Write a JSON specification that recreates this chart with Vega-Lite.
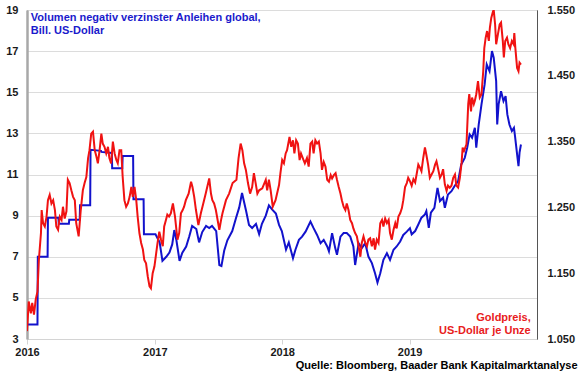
{
  "$schema": "https://vega.github.io/schema/vega-lite/v6.json",
  "autosize": {"type": "none"},
  "width": 510,
  "height": 329,
  "padding": {"left": 27, "top": 10, "right": 43, "bottom": 36},
  "background": "white",
  "config": {
    "font": "Liberation Sans",
    "view": {"stroke": "#8a8a8a", "strokeWidth": 1},
    "axis": {"labelFont": "Liberation Sans", "labelFontWeight": "bold", "labelFontSize": 11, "labelColor": "#1a1a1a"}
  },
  "title": {
    "text": "Quelle: Bloomberg, Baader Bank Kapitalmarktanalyse",
    "orient": "bottom",
    "anchor": "end",
    "dx": 3,
    "offset": 3,
    "fontSize": 11,
    "fontWeight": "bold",
    "color": "#000000",
    "font": "Liberation Sans"
  },
  "datasets": {
    "blue": [
      {"date": "2016-01-01", "v": 3.7}, {"date": "2016-01-31", "v": 3.7},
      {"date": "2016-02-01", "v": 7.0}, {"date": "2016-02-29", "v": 7.0},
      {"date": "2016-03-01", "v": 8.9}, {"date": "2016-03-31", "v": 8.9},
      {"date": "2016-04-01", "v": 8.6}, {"date": "2016-04-30", "v": 8.6},
      {"date": "2016-05-01", "v": 8.8}, {"date": "2016-05-31", "v": 8.8},
      {"date": "2016-06-01", "v": 9.5}, {"date": "2016-06-30", "v": 9.5},
      {"date": "2016-07-01", "v": 12.2}, {"date": "2016-07-31", "v": 12.15},
      {"date": "2016-08-01", "v": 12.1}, {"date": "2016-08-31", "v": 12.05},
      {"date": "2016-09-01", "v": 11.3}, {"date": "2016-09-30", "v": 11.3},
      {"date": "2016-10-01", "v": 11.9}, {"date": "2016-10-31", "v": 11.9},
      {"date": "2016-11-01", "v": 9.8}, {"date": "2016-11-30", "v": 9.8},
      {"date": "2016-12-01", "v": 8.1}, {"date": "2017-01-03", "v": 8.1},
      {"date": "2017-01-06", "v": 8.0}, {"date": "2017-01-15", "v": 7.7},
      {"date": "2017-01-23", "v": 6.8}, {"date": "2017-02-03", "v": 7.0},
      {"date": "2017-02-12", "v": 7.2}, {"date": "2017-02-20", "v": 7.6},
      {"date": "2017-02-26", "v": 8.3}, {"date": "2017-03-04", "v": 7.8},
      {"date": "2017-03-13", "v": 6.8}, {"date": "2017-03-21", "v": 7.2},
      {"date": "2017-04-01", "v": 7.5}, {"date": "2017-04-10", "v": 8.0},
      {"date": "2017-04-18", "v": 8.5}, {"date": "2017-04-30", "v": 8.35},
      {"date": "2017-05-08", "v": 7.7}, {"date": "2017-05-17", "v": 8.2},
      {"date": "2017-05-28", "v": 8.5}, {"date": "2017-06-06", "v": 8.4},
      {"date": "2017-06-14", "v": 8.5}, {"date": "2017-06-26", "v": 8.25},
      {"date": "2017-07-05", "v": 6.6}, {"date": "2017-07-11", "v": 6.55},
      {"date": "2017-07-19", "v": 7.3}, {"date": "2017-07-28", "v": 7.8},
      {"date": "2017-08-11", "v": 8.25}, {"date": "2017-08-22", "v": 8.9},
      {"date": "2017-08-31", "v": 9.4}, {"date": "2017-09-08", "v": 10.1},
      {"date": "2017-09-20", "v": 9.2}, {"date": "2017-09-28", "v": 8.55},
      {"date": "2017-10-07", "v": 8.4}, {"date": "2017-10-18", "v": 8.6},
      {"date": "2017-10-27", "v": 8.1}, {"date": "2017-11-04", "v": 8.6},
      {"date": "2017-11-15", "v": 9.0}, {"date": "2017-11-24", "v": 9.5},
      {"date": "2017-12-03", "v": 9.3}, {"date": "2017-12-14", "v": 9.1},
      {"date": "2017-12-23", "v": 8.55}, {"date": "2017-12-31", "v": 8.25},
      {"date": "2018-01-12", "v": 7.35}, {"date": "2018-01-20", "v": 7.7},
      {"date": "2018-02-01", "v": 6.93}, {"date": "2018-02-08", "v": 7.34},
      {"date": "2018-02-18", "v": 7.82}, {"date": "2018-02-27", "v": 7.98},
      {"date": "2018-03-09", "v": 8.22}, {"date": "2018-03-23", "v": 8.71},
      {"date": "2018-04-01", "v": 8.39}, {"date": "2018-04-11", "v": 8.06},
      {"date": "2018-04-21", "v": 7.66}, {"date": "2018-04-30", "v": 7.82},
      {"date": "2018-05-10", "v": 7.5}, {"date": "2018-05-15", "v": 7.26},
      {"date": "2018-05-24", "v": 8.15}, {"date": "2018-06-02", "v": 7.42},
      {"date": "2018-06-07", "v": 7.1}, {"date": "2018-06-17", "v": 7.98},
      {"date": "2018-06-26", "v": 8.15}, {"date": "2018-07-05", "v": 8.15},
      {"date": "2018-07-15", "v": 7.98}, {"date": "2018-07-24", "v": 7.5},
      {"date": "2018-07-29", "v": 6.6}, {"date": "2018-08-08", "v": 7.66},
      {"date": "2018-08-17", "v": 7.42}, {"date": "2018-08-27", "v": 7.66},
      {"date": "2018-09-05", "v": 7.01}, {"date": "2018-09-15", "v": 6.69},
      {"date": "2018-09-24", "v": 6.2}, {"date": "2018-10-01", "v": 5.75},
      {"date": "2018-10-09", "v": 6.2}, {"date": "2018-10-18", "v": 6.85},
      {"date": "2018-10-28", "v": 7.17}, {"date": "2018-11-06", "v": 6.85},
      {"date": "2018-11-16", "v": 7.34}, {"date": "2018-11-25", "v": 7.5},
      {"date": "2018-12-05", "v": 7.74}, {"date": "2018-12-14", "v": 8.06},
      {"date": "2018-12-24", "v": 8.22}, {"date": "2019-01-02", "v": 8.39},
      {"date": "2019-01-07", "v": 8.09}, {"date": "2019-01-17", "v": 8.25},
      {"date": "2019-01-26", "v": 8.57}, {"date": "2019-02-04", "v": 8.9},
      {"date": "2019-02-14", "v": 9.06}, {"date": "2019-02-18", "v": 9.22},
      {"date": "2019-02-25", "v": 8.41}, {"date": "2019-03-03", "v": 9.14},
      {"date": "2019-03-13", "v": 9.38}, {"date": "2019-03-22", "v": 10.35},
      {"date": "2019-03-29", "v": 9.71}, {"date": "2019-04-07", "v": 9.87},
      {"date": "2019-04-12", "v": 9.38}, {"date": "2019-04-21", "v": 10.03},
      {"date": "2019-05-01", "v": 10.19}, {"date": "2019-05-10", "v": 10.44},
      {"date": "2019-05-20", "v": 10.68}, {"date": "2019-05-29", "v": 11.49},
      {"date": "2019-06-08", "v": 11.81}, {"date": "2019-06-15", "v": 12.3},
      {"date": "2019-06-22", "v": 12.95}, {"date": "2019-06-29", "v": 12.79},
      {"date": "2019-07-07", "v": 13.27}, {"date": "2019-07-11", "v": 12.3},
      {"date": "2019-07-18", "v": 13.43}, {"date": "2019-07-26", "v": 14.41},
      {"date": "2019-08-04", "v": 15.38}, {"date": "2019-08-10", "v": 16.35},
      {"date": "2019-08-18", "v": 16.03}, {"date": "2019-08-25", "v": 17.0},
      {"date": "2019-08-30", "v": 16.68}, {"date": "2019-09-06", "v": 15.54},
      {"date": "2019-09-09", "v": 13.43}, {"date": "2019-09-13", "v": 14.41},
      {"date": "2019-09-20", "v": 15.05}, {"date": "2019-09-27", "v": 14.57},
      {"date": "2019-10-03", "v": 14.81}, {"date": "2019-10-08", "v": 13.92},
      {"date": "2019-10-14", "v": 13.43}, {"date": "2019-10-21", "v": 13.11},
      {"date": "2019-10-27", "v": 13.27}, {"date": "2019-10-30", "v": 12.87},
      {"date": "2019-11-05", "v": 11.98}, {"date": "2019-11-09", "v": 11.41},
      {"date": "2019-11-12", "v": 12.06}, {"date": "2019-11-16", "v": 12.46}
    ],
    "red": [
      {"date": "2016-01-01", "g": 1062}, {"date": "2016-01-06", "g": 1107},
      {"date": "2016-01-12", "g": 1089}, {"date": "2016-01-16", "g": 1105},
      {"date": "2016-01-21", "g": 1087}, {"date": "2016-01-26", "g": 1110},
      {"date": "2016-01-31", "g": 1122}, {"date": "2016-02-04", "g": 1170},
      {"date": "2016-02-10", "g": 1211}, {"date": "2016-02-12", "g": 1246},
      {"date": "2016-02-16", "g": 1226}, {"date": "2016-02-21", "g": 1221},
      {"date": "2016-02-26", "g": 1236}, {"date": "2016-03-01", "g": 1261},
      {"date": "2016-03-06", "g": 1269}, {"date": "2016-03-11", "g": 1256},
      {"date": "2016-03-16", "g": 1261}, {"date": "2016-03-21", "g": 1246},
      {"date": "2016-03-25", "g": 1221}, {"date": "2016-03-30", "g": 1216},
      {"date": "2016-04-04", "g": 1236}, {"date": "2016-04-09", "g": 1231},
      {"date": "2016-04-13", "g": 1251}, {"date": "2016-04-18", "g": 1233},
      {"date": "2016-04-23", "g": 1244}, {"date": "2016-04-27", "g": 1292},
      {"date": "2016-05-02", "g": 1287}, {"date": "2016-05-07", "g": 1276},
      {"date": "2016-05-12", "g": 1266}, {"date": "2016-05-17", "g": 1261},
      {"date": "2016-05-21", "g": 1226}, {"date": "2016-05-28", "g": 1206},
      {"date": "2016-06-03", "g": 1246}, {"date": "2016-06-09", "g": 1276},
      {"date": "2016-06-14", "g": 1287}, {"date": "2016-06-19", "g": 1296},
      {"date": "2016-06-24", "g": 1325}, {"date": "2016-06-28", "g": 1337},
      {"date": "2016-07-03", "g": 1362}, {"date": "2016-07-08", "g": 1365},
      {"date": "2016-07-13", "g": 1337}, {"date": "2016-07-18", "g": 1327},
      {"date": "2016-07-22", "g": 1317}, {"date": "2016-07-27", "g": 1337},
      {"date": "2016-08-01", "g": 1362}, {"date": "2016-08-05", "g": 1347},
      {"date": "2016-08-10", "g": 1342}, {"date": "2016-08-15", "g": 1332},
      {"date": "2016-08-20", "g": 1342}, {"date": "2016-08-24", "g": 1325},
      {"date": "2016-08-29", "g": 1317}, {"date": "2016-09-03", "g": 1350},
      {"date": "2016-09-08", "g": 1332}, {"date": "2016-09-13", "g": 1322},
      {"date": "2016-09-17", "g": 1317}, {"date": "2016-09-22", "g": 1337},
      {"date": "2016-09-27", "g": 1337}, {"date": "2016-10-01", "g": 1297},
      {"date": "2016-10-06", "g": 1261}, {"date": "2016-10-11", "g": 1251},
      {"date": "2016-10-16", "g": 1256}, {"date": "2016-10-21", "g": 1266},
      {"date": "2016-10-26", "g": 1281}, {"date": "2016-10-30", "g": 1266},
      {"date": "2016-11-04", "g": 1281}, {"date": "2016-11-09", "g": 1261},
      {"date": "2016-11-13", "g": 1236}, {"date": "2016-11-18", "g": 1211},
      {"date": "2016-11-23", "g": 1196}, {"date": "2016-11-28", "g": 1186},
      {"date": "2016-12-02", "g": 1170}, {"date": "2016-12-07", "g": 1165},
      {"date": "2016-12-12", "g": 1145}, {"date": "2016-12-17", "g": 1130},
      {"date": "2016-12-21", "g": 1127}, {"date": "2016-12-26", "g": 1150},
      {"date": "2016-12-31", "g": 1160}, {"date": "2017-01-05", "g": 1180},
      {"date": "2017-01-09", "g": 1196}, {"date": "2017-01-14", "g": 1213},
      {"date": "2017-01-19", "g": 1201}, {"date": "2017-01-24", "g": 1191},
      {"date": "2017-01-28", "g": 1221}, {"date": "2017-02-02", "g": 1231},
      {"date": "2017-02-06", "g": 1239}, {"date": "2017-02-11", "g": 1236},
      {"date": "2017-02-16", "g": 1241}, {"date": "2017-02-22", "g": 1256},
      {"date": "2017-02-28", "g": 1236}, {"date": "2017-03-07", "g": 1201},
      {"date": "2017-03-12", "g": 1211}, {"date": "2017-03-17", "g": 1241},
      {"date": "2017-03-22", "g": 1246}, {"date": "2017-03-26", "g": 1251},
      {"date": "2017-03-31", "g": 1261}, {"date": "2017-04-08", "g": 1271},
      {"date": "2017-04-15", "g": 1289}, {"date": "2017-04-19", "g": 1281},
      {"date": "2017-04-24", "g": 1266}, {"date": "2017-04-29", "g": 1246},
      {"date": "2017-05-06", "g": 1223}, {"date": "2017-05-13", "g": 1241},
      {"date": "2017-05-20", "g": 1256}, {"date": "2017-05-27", "g": 1271},
      {"date": "2017-06-06", "g": 1294}, {"date": "2017-06-11", "g": 1271},
      {"date": "2017-06-15", "g": 1261}, {"date": "2017-06-20", "g": 1256},
      {"date": "2017-06-25", "g": 1246}, {"date": "2017-07-05", "g": 1216},
      {"date": "2017-07-10", "g": 1231}, {"date": "2017-07-14", "g": 1241},
      {"date": "2017-07-24", "g": 1261}, {"date": "2017-08-02", "g": 1271},
      {"date": "2017-08-12", "g": 1287}, {"date": "2017-08-23", "g": 1292},
      {"date": "2017-08-29", "g": 1325}, {"date": "2017-09-04", "g": 1347},
      {"date": "2017-09-09", "g": 1337}, {"date": "2017-09-14", "g": 1317},
      {"date": "2017-09-19", "g": 1307}, {"date": "2017-09-25", "g": 1287},
      {"date": "2017-10-01", "g": 1271}, {"date": "2017-10-07", "g": 1281},
      {"date": "2017-10-12", "g": 1302}, {"date": "2017-10-17", "g": 1287},
      {"date": "2017-10-22", "g": 1271}, {"date": "2017-10-27", "g": 1276},
      {"date": "2017-11-05", "g": 1279}, {"date": "2017-11-15", "g": 1292},
      {"date": "2017-11-19", "g": 1276}, {"date": "2017-11-24", "g": 1292},
      {"date": "2017-11-29", "g": 1276}, {"date": "2017-12-05", "g": 1251},
      {"date": "2017-12-13", "g": 1261}, {"date": "2017-12-23", "g": 1284},
      {"date": "2017-12-27", "g": 1302}, {"date": "2018-01-01", "g": 1322},
      {"date": "2018-01-06", "g": 1317}, {"date": "2018-01-11", "g": 1332},
      {"date": "2018-01-15", "g": 1337}, {"date": "2018-01-22", "g": 1357},
      {"date": "2018-01-27", "g": 1342}, {"date": "2018-02-01", "g": 1352},
      {"date": "2018-02-05", "g": 1332}, {"date": "2018-02-10", "g": 1352},
      {"date": "2018-02-15", "g": 1347}, {"date": "2018-02-20", "g": 1322},
      {"date": "2018-02-24", "g": 1332}, {"date": "2018-03-01", "g": 1325},
      {"date": "2018-03-07", "g": 1317}, {"date": "2018-03-13", "g": 1325},
      {"date": "2018-03-18", "g": 1312}, {"date": "2018-03-23", "g": 1347},
      {"date": "2018-03-28", "g": 1350}, {"date": "2018-04-01", "g": 1332},
      {"date": "2018-04-06", "g": 1352}, {"date": "2018-04-11", "g": 1347},
      {"date": "2018-04-16", "g": 1350}, {"date": "2018-04-21", "g": 1332},
      {"date": "2018-04-25", "g": 1307}, {"date": "2018-04-30", "g": 1319},
      {"date": "2018-05-05", "g": 1312}, {"date": "2018-05-10", "g": 1292},
      {"date": "2018-05-15", "g": 1289}, {"date": "2018-05-20", "g": 1299},
      {"date": "2018-05-24", "g": 1294}, {"date": "2018-05-29", "g": 1299},
      {"date": "2018-06-03", "g": 1302}, {"date": "2018-06-07", "g": 1292},
      {"date": "2018-06-12", "g": 1281}, {"date": "2018-06-17", "g": 1271},
      {"date": "2018-06-21", "g": 1261}, {"date": "2018-06-26", "g": 1251},
      {"date": "2018-07-01", "g": 1246}, {"date": "2018-07-05", "g": 1256},
      {"date": "2018-07-10", "g": 1246}, {"date": "2018-07-15", "g": 1231},
      {"date": "2018-07-20", "g": 1226}, {"date": "2018-07-24", "g": 1218},
      {"date": "2018-07-29", "g": 1211}, {"date": "2018-08-03", "g": 1206},
      {"date": "2018-08-08", "g": 1191}, {"date": "2018-08-13", "g": 1175},
      {"date": "2018-08-17", "g": 1196}, {"date": "2018-08-22", "g": 1206},
      {"date": "2018-08-27", "g": 1196}, {"date": "2018-09-01", "g": 1191},
      {"date": "2018-09-05", "g": 1201}, {"date": "2018-09-10", "g": 1203},
      {"date": "2018-09-15", "g": 1191}, {"date": "2018-09-20", "g": 1203},
      {"date": "2018-09-24", "g": 1186}, {"date": "2018-09-29", "g": 1201},
      {"date": "2018-10-04", "g": 1196}, {"date": "2018-10-09", "g": 1226},
      {"date": "2018-10-14", "g": 1231}, {"date": "2018-10-18", "g": 1221},
      {"date": "2018-10-23", "g": 1233}, {"date": "2018-10-28", "g": 1226},
      {"date": "2018-11-02", "g": 1231}, {"date": "2018-11-06", "g": 1211},
      {"date": "2018-11-11", "g": 1201}, {"date": "2018-11-16", "g": 1216},
      {"date": "2018-11-21", "g": 1226}, {"date": "2018-11-25", "g": 1218},
      {"date": "2018-11-30", "g": 1236}, {"date": "2018-12-05", "g": 1241},
      {"date": "2018-12-10", "g": 1249}, {"date": "2018-12-14", "g": 1261},
      {"date": "2018-12-19", "g": 1281}, {"date": "2018-12-24", "g": 1287},
      {"date": "2018-12-28", "g": 1295}, {"date": "2019-01-02", "g": 1290},
      {"date": "2019-01-07", "g": 1283}, {"date": "2019-01-12", "g": 1293},
      {"date": "2019-01-17", "g": 1288}, {"date": "2019-01-21", "g": 1300},
      {"date": "2019-01-26", "g": 1315}, {"date": "2019-01-31", "g": 1310},
      {"date": "2019-02-04", "g": 1305}, {"date": "2019-02-09", "g": 1325},
      {"date": "2019-02-14", "g": 1341}, {"date": "2019-02-18", "g": 1330},
      {"date": "2019-02-23", "g": 1315}, {"date": "2019-02-28", "g": 1295},
      {"date": "2019-03-05", "g": 1300}, {"date": "2019-03-10", "g": 1305},
      {"date": "2019-03-15", "g": 1315}, {"date": "2019-03-19", "g": 1320},
      {"date": "2019-03-24", "g": 1308}, {"date": "2019-03-29", "g": 1295},
      {"date": "2019-04-03", "g": 1300}, {"date": "2019-04-07", "g": 1308},
      {"date": "2019-04-12", "g": 1285}, {"date": "2019-04-17", "g": 1275},
      {"date": "2019-04-21", "g": 1283}, {"date": "2019-04-26", "g": 1280},
      {"date": "2019-05-01", "g": 1283}, {"date": "2019-05-06", "g": 1295},
      {"date": "2019-05-11", "g": 1300}, {"date": "2019-05-15", "g": 1283},
      {"date": "2019-05-20", "g": 1280}, {"date": "2019-05-25", "g": 1295},
      {"date": "2019-05-30", "g": 1318}, {"date": "2019-06-02", "g": 1341},
      {"date": "2019-06-06", "g": 1336}, {"date": "2019-06-13", "g": 1346},
      {"date": "2019-06-18", "g": 1407}, {"date": "2019-06-21", "g": 1422},
      {"date": "2019-06-26", "g": 1396}, {"date": "2019-06-29", "g": 1417},
      {"date": "2019-07-04", "g": 1407}, {"date": "2019-07-07", "g": 1412},
      {"date": "2019-07-11", "g": 1422}, {"date": "2019-07-16", "g": 1442},
      {"date": "2019-07-21", "g": 1417}, {"date": "2019-07-26", "g": 1422},
      {"date": "2019-07-31", "g": 1457}, {"date": "2019-08-03", "g": 1492},
      {"date": "2019-08-07", "g": 1508}, {"date": "2019-08-11", "g": 1518},
      {"date": "2019-08-16", "g": 1503}, {"date": "2019-08-19", "g": 1523},
      {"date": "2019-08-23", "g": 1538}, {"date": "2019-08-28", "g": 1548},
      {"date": "2019-08-30", "g": 1550}, {"date": "2019-09-03", "g": 1528},
      {"date": "2019-09-06", "g": 1498}, {"date": "2019-09-11", "g": 1513},
      {"date": "2019-09-16", "g": 1528}, {"date": "2019-09-20", "g": 1531},
      {"date": "2019-09-25", "g": 1503}, {"date": "2019-09-28", "g": 1478},
      {"date": "2019-10-02", "g": 1503}, {"date": "2019-10-07", "g": 1508},
      {"date": "2019-10-11", "g": 1498}, {"date": "2019-10-16", "g": 1492},
      {"date": "2019-10-21", "g": 1503}, {"date": "2019-10-26", "g": 1498},
      {"date": "2019-10-28", "g": 1515}, {"date": "2019-10-31", "g": 1492},
      {"date": "2019-11-05", "g": 1462}, {"date": "2019-11-09", "g": 1457},
      {"date": "2019-11-12", "g": 1470}, {"date": "2019-11-16", "g": 1467}
    ],
    "blueLabel": [
      {"date": "2016-01-12", "v": 18.6, "t": "Volumen negativ verzinster Anleihen global,"},
      {"date": "2016-01-12", "v": 17.98, "t": "Bill. US-Dollar"}
    ],
    "redLabel": [
      {"date": "2019-12-14", "g": 1082, "t": "Goldpreis,"},
      {"date": "2019-12-14", "g": 1062, "t": "US-Dollar je Unze"}
    ]
  },
  "layer": [
    {
      "layer": [
        {
          "data": {"name": "blue"},
          "mark": {"type": "line", "color": "#1212cc", "strokeWidth": 2, "clip": true},
          "encoding": {
            "x": {
              "field": "date", "type": "temporal",
              "scale": {"domain": ["2016-01-01", "2020-01-01"]},
              "axis": {
                "title": null, "format": "%Y", "labelFlush": false, "grid": false,
                "values": [{"year": 2016, "month": 1, "date": 1}, {"year": 2017, "month": 1, "date": 1}, {"year": 2018, "month": 1, "date": 1}, {"year": 2019, "month": 1, "date": 1}],
                "domainColor": "#d4d4d4", "domainWidth": 1,
                "tickColor": "#d4d4d4", "tickSize": 5, "labelPadding": 2
              }
            },
            "y": {
              "field": "v", "type": "quantitative",
              "scale": {"domain": [3, 19], "nice": false, "zero": false},
              "axis": {
                "title": null, "orient": "left",
                "values": [3, 5, 7, 9, 11, 13, 15, 17, 19],
                "grid": true, "gridColor": "#dcdcdc", "gridWidth": 1,
                "ticks": false, "labelPadding": 9,
                "domainColor": "#a8a8a8", "domainWidth": 2.5
              }
            }
          }
        },
        {
          "data": {"name": "blueLabel"},
          "mark": {"type": "text", "align": "left", "baseline": "middle", "fontSize": 11, "fontWeight": "bold", "font": "Liberation Sans", "color": "#1a1acc"},
          "encoding": {
            "x": {"field": "date", "type": "temporal"},
            "y": {"field": "v", "type": "quantitative"},
            "text": {"field": "t"}
          }
        }
      ]
    },
    {
      "layer": [
        {
          "data": {"name": "red"},
          "mark": {"type": "line", "color": "#f01212", "strokeWidth": 2, "clip": true},
          "encoding": {
            "x": {"field": "date", "type": "temporal"},
            "y": {
              "field": "g", "type": "quantitative",
              "scale": {"domain": [1050, 1550], "nice": false, "zero": false},
              "axis": {
                "title": null, "orient": "right",
                "values": [1050, 1150, 1250, 1350, 1450, 1550],
                "labelExpr": "replace(format(datum.value, ',d'), ',', '.')",
                "grid": false, "ticks": false, "labelPadding": 10,
                "domainColor": "#555555", "domainWidth": 1
              }
            }
          }
        },
        {
          "data": {"name": "redLabel"},
          "mark": {"type": "text", "align": "right", "baseline": "middle", "fontSize": 11, "fontWeight": "bold", "font": "Liberation Sans", "color": "#e8201c"},
          "encoding": {
            "x": {"field": "date", "type": "temporal"},
            "y": {"field": "g", "type": "quantitative"},
            "text": {"field": "t"}
          }
        }
      ]
    }
  ],
  "resolve": {"scale": {"y": "independent"}}
}
